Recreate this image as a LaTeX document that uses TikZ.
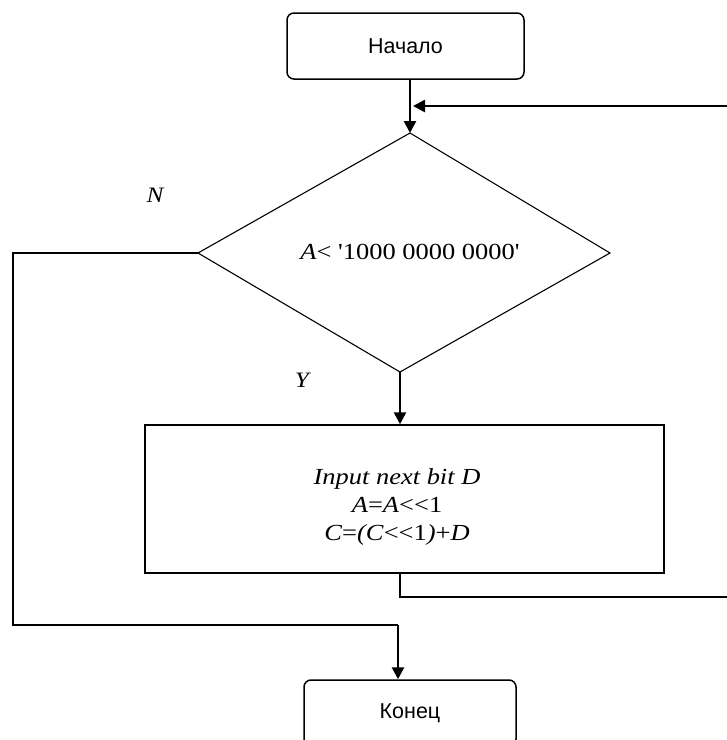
\documentclass[tikz,border=0pt]{standalone}
\usepackage{fontspec}
\setmainfont{Liberation Serif}[Ligatures=TeXOff,FakeStretch=1.15]
\newfontfamily\sansru{Liberation Sans}
\usetikzlibrary{arrows.meta}
\begin{document}
\begin{tikzpicture}[x=1pt,y=-1pt,
  term/.style={draw, line width=1.5pt, rounded corners=7pt, inner sep=0pt,
    font=\sansru\fontsize{21.5}{25}\selectfont},
  procbox/.style={draw, line width=1.5pt, inner sep=0pt},
  flow/.style={line width=2.6pt, -{Triangle[length=12pt,width=12pt]}},
  nline/.style={line width=1.6pt},
  loopline/.style={line width=1.3pt},
  lbl/.style={inner sep=0pt, font=\fontsize{22}{26}\selectfont\itshape}
]
\useasboundingbox (0,0) rectangle (727,740);

% terminals
\node[term, minimum width=237pt, minimum height=66pt] (start) at (405.5,46) {Начало};
\node[term, minimum width=212pt, minimum height=66pt] (end) at (410,713) {Конец};

% decision
\coordinate (dT) at (410,133);
\coordinate (dR) at (610,253);
\coordinate (dB) at (400,372);
\coordinate (dL) at (198,253);
\draw[line width=1.1pt, line join=miter] (dT) -- (dR) -- (dB) -- (dL) -- cycle;
\node[inner sep=0pt, font=\fontsize{23}{27}\selectfont] (cond) at (410,252) {\textit{A}< '1000 0000 0000'};

% process
\node[procbox, minimum width=519pt, minimum height=148pt] (proc) at (404.5,499) {};
\node[align=center, inner sep=0pt, font=\fontsize{23}{28}\selectfont] (proctext) at (397,507)
  {\textit{Input next bit D}\\ \textit{A}=\textit{A}<<1\\ \textit{C}=\textit{(C}<<1\textit{)}+\textit{D}};

% labels
\node[lbl] (lN) at (155,195) {N};
\node[lbl] (lY) at (302,380) {Y};

% connectors
\draw[flow] (dT |- start.south) -- (dT);
\draw[flow] (dB) -- (dB |- proc.north);

\coordinate (loopR) at (745,597);
\coordinate (loopTop) at (745,106);
\coordinate (join) at (413,106);
\draw[loopline] (dB |- proc.south) |- (loopR) -- (loopTop);
\draw[flow] (loopTop) -- (join);

\coordinate (nA) at (13,253);
\coordinate (nB) at (13,625);
\coordinate (nC) at (398,625);
\draw[nline] (dL) -- (nA) -- (nB) -- (nC);
\draw[flow] (nC) -- (nC |- end.north);
\end{tikzpicture}
\end{document}
